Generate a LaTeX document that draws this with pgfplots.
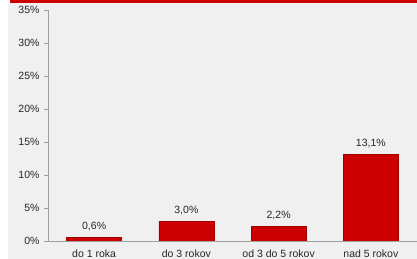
\documentclass[border=0pt]{standalone}
\usepackage{pgfplots}
\pgfplotsset{compat=1.18}
\usepackage{fontspec}
\setmainfont{Liberation Sans}
\definecolor{bg}{HTML}{F0F0F0}
\definecolor{barred}{HTML}{CC0000}
\definecolor{axgray}{HTML}{A0A0A0}
\begin{document}
\begin{tikzpicture}[x=1pt,y=1pt]
\path[use as bounding box] (-48,-18) rectangle (369,241);
\fill[bg] (-40,-18) rectangle (369,238);
\fill[barred] (-38,238) rectangle (369,241);
\begin{axis}[
  at={(0,0)}, anchor=south west,
  scale only axis, width=369pt, height=231pt,
  xmin=-0.5, xmax=3.5, ymin=0, ymax=35,
  axis x line*=bottom, axis y line*=left,
  axis line style={axgray, line width=0.8pt},
  xtick={0,1,2,3},
  xticklabels={do 1 roka, do 3 rokov, od 3 do 5 rokov, nad 5 rokov},
  extra x ticks={0.5,1.5,2.5}, extra x tick labels={},
  extra x tick style={major tick length=3pt, tick style={axgray, line width=0.6pt}},
  major x tick style={draw=none},
  ytick={0,5,...,35},
  yticklabel={\pgfmathprintnumber{\tick}\%},
  /pgf/number format/assume math mode=true,
  tick align=outside,
  major tick length=4pt,
  tick style={axgray, line width=0.6pt},
  ticklabel style={font=\fontsize{10.5}{11}\selectfont, text=black!85},
  yticklabel style={xshift=-1pt},
  xticklabel style={yshift=-1.5pt},
  ybar, bar width=55pt,
  nodes near coords={\pgfmathprintnumber[fixed,fixed zerofill,precision=1,use comma]{\pgfplotspointmeta}\%},
  every node near coord/.append style={font=\fontsize{10.5}{11}\selectfont, text=black!85, yshift=3pt},
]
\addplot[fill=barred, draw=barred!80!black, line width=0.4pt]
  coordinates {(0,0.6) (1,3.0) (2,2.2) (3,13.1)};
\end{axis}
\end{tikzpicture}
\end{document}
